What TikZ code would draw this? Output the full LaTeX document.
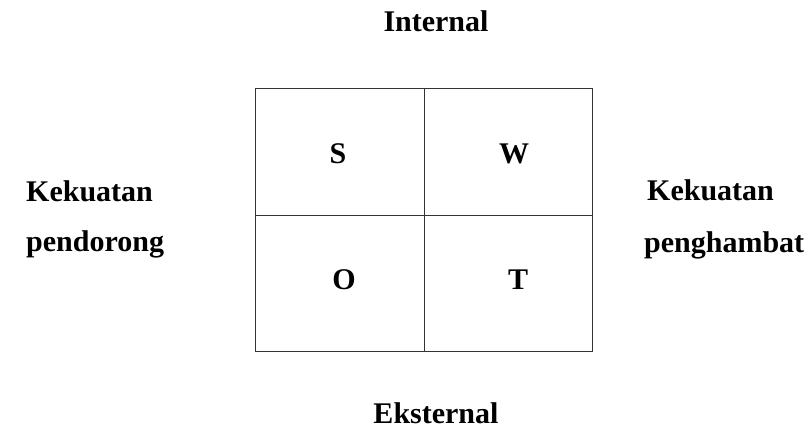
\documentclass[tikz,border=0pt]{standalone}
\usepackage{fontspec}
\setmainfont{Liberation Serif}
\begin{document}
\begin{tikzpicture}[x=1pt,y=-1pt,
  lbl/.style={inner sep=0pt,font=\fontsize{30}{36}\selectfont\bfseries},
  gridline/.style={draw=black!80,line width=1pt}]
\useasboundingbox (0,0) rectangle (809,430);
% grid
\coordinate (tl) at (255,89);
\coordinate (br) at (592,352);
\coordinate (mt) at (424,89);
\coordinate (mb) at (424,352);
\coordinate (ml) at (255,216);
\coordinate (mr) at (592,216);
\draw[gridline] (tl) rectangle (br);
\draw[gridline] (mt) -- (mb);
\draw[gridline] (ml) -- (mr);
% letters
\node[lbl,anchor=base] (s) at (338,164) {S};
\node[lbl,anchor=base] (w) at (514,164) {W};
\node[lbl,anchor=base] (o) at (344,290) {O};
\node[lbl,anchor=base] (t) at (518,290) {T};
% labels
\node[lbl,anchor=base] (int) at (436,32) {Internal};
\node[lbl,anchor=base] (eks) at (436,423) {Eksternal};
\node[lbl,anchor=base west] (k1) at (26,202) {Kekuatan};
\node[lbl,anchor=base west] (p1) at (26,252) {pendorong};
\node[lbl,anchor=base west] (k2) at (647,201) {Kekuatan};
\node[lbl,anchor=base west] (p2) at (644,253) {penghambat};
\end{tikzpicture}
\end{document}
